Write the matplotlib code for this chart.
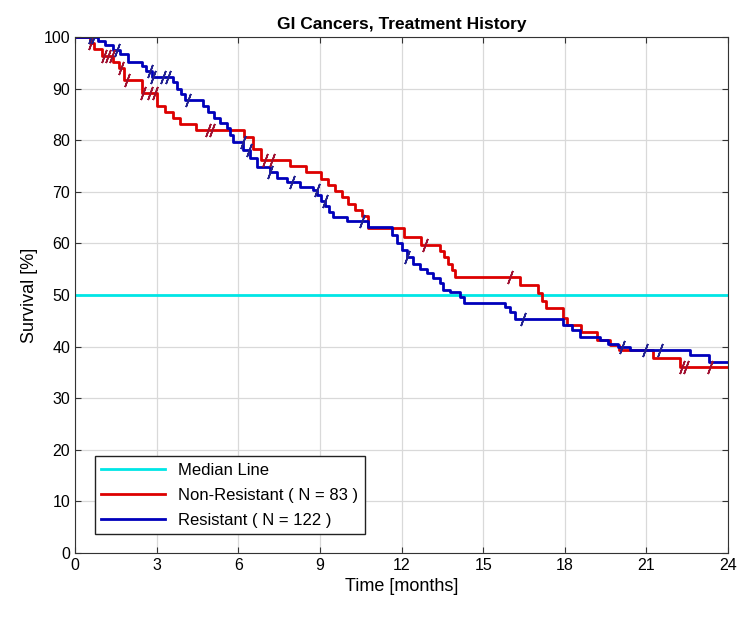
import numpy as np
import matplotlib
matplotlib.use("Agg")
import matplotlib.pyplot as plt

plt.rcParams["font.family"] = ["Liberation Sans", "DejaVu Sans"]

# step data (time in months, survival in %)
red_t = [0, 0.55, 0.7, 1.0, 1.4, 1.6, 1.8, 2.45, 3.0, 3.3, 3.6, 3.85, 4.45, 6.2, 6.55,
         6.85, 7.9, 8.5, 9.05, 9.3, 9.55, 9.8, 10.05, 10.3, 10.55, 10.75, 12.1, 12.7,
         13.4, 13.55, 13.7, 13.85, 13.95, 16.35, 17.0, 17.15, 17.3, 17.95, 18.1, 18.6,
         19.2, 19.65, 20.0, 21.25, 22.25]
red_s = [100, 98.8, 97.6, 96.4, 95.2, 94.0, 91.6, 89.2, 86.7, 85.5, 84.3, 83.1, 81.9,
         80.7, 78.3, 76.2, 75.0, 73.8, 72.5, 71.3, 70.1, 68.9, 67.7, 66.5, 65.3, 62.9,
         61.3, 59.7, 58.5, 57.3, 56.1, 54.9, 53.5, 51.9, 50.4, 48.9, 47.4, 45.5, 44.2,
         42.9, 41.3, 40.3, 39.3, 37.7, 36.1]
red_cens = [0.6, 1.05, 1.2, 1.35, 1.7, 1.9, 2.5, 2.75, 2.95, 4.9, 5.05, 7.0, 7.25,
            12.85, 16.0, 22.3, 22.45, 23.35]

blue_t = [0, 0.85, 1.1, 1.4, 1.65, 1.95, 2.45, 2.6, 2.82, 3.6, 3.75, 3.9, 4.04, 4.72,
          4.9, 5.1, 5.33, 5.58, 5.7, 5.82, 6.19, 6.43, 6.68, 7.17, 7.41, 7.78, 8.27,
          8.76, 8.9, 9.05, 9.2, 9.35, 9.5, 9.99, 10.75, 11.64, 11.83, 12.01, 12.19,
          12.44, 12.68, 12.93, 13.17, 13.42, 13.54, 13.79, 14.15, 14.28, 15.81, 15.99,
          16.18, 17.94, 18.26, 18.57, 19.3, 19.6, 19.97, 20.4, 22.6, 23.3]
blue_s = [100, 99.2, 98.4, 97.5, 96.7, 95.2, 94.4, 93.5, 92.3, 91.2, 90.0, 88.9, 87.8,
          86.6, 85.4, 84.3, 83.4, 82.4, 81.0, 79.7, 78.1, 76.5, 74.9, 73.9, 72.7, 71.9,
          71.0, 70.4, 69.4, 68.3, 67.2, 66.1, 65.2, 64.4, 63.2, 61.6, 60.0, 58.7, 57.4,
          56.1, 55.0, 54.2, 53.2, 52.3, 51.0, 50.6, 49.6, 48.5, 47.7, 46.8, 45.3, 44.2,
          43.2, 41.8, 41.2, 40.5, 39.9, 39.3, 38.3, 37.0]
blue_cens = [0.6, 0.7, 1.55, 2.75, 2.87, 3.25, 3.42, 4.15, 6.18, 6.4, 7.17, 7.96, 8.88,
             9.19, 10.54, 12.19, 16.48, 20.1, 20.96, 21.5]

t_max = 24
red_color = "#dd0000"
blue_color = "#0000bb"


def step_value(ts, ss, x):
    idx = np.searchsorted(ts, x, side="right") - 1
    return np.array(ss)[idx]


fig = plt.figure(figsize=(7.5, 6.24), dpi=100)
ax = fig.add_axes([0.1, 0.1138, 0.8707, 0.8269])

ax.axhline(50, color="#00e6e6", lw=2, label="Median Line")
ax.step(red_t + [t_max], red_s + [red_s[-1]], where="post", color=red_color, lw=2,
        label="Non-Resistant ( N = 83 )")
ax.step(blue_t + [t_max], blue_s + [blue_s[-1]], where="post", color=blue_color, lw=2,
        label="Resistant ( N = 122 )")

# censoring marks
ax.plot(red_cens, step_value(red_t, red_s, red_cens), ls="none",
        marker=(2, 2, -20), ms=10, mew=1.2, color="#a01030")
ax.plot(blue_cens, step_value(blue_t, blue_s, blue_cens), ls="none",
        marker=(2, 2, -20), ms=10, mew=1.2, color="#202090")

ax.set_xlim(0, 24)
ax.set_ylim(0, 100)
ax.set_xticks(np.arange(0, 25, 3))
ax.set_yticks(np.arange(0, 101, 10))
ax.grid(True, color="#d9d9d9", lw=0.9)
ax.set_axisbelow(True)
ax.tick_params(direction="in", length=4, labelsize=11.5, top=True, right=True,
               color="#333333")
for sp in ax.spines.values():
    sp.set_color("#333333")

ax.set_title("GI Cancers, Treatment History", fontsize=12.5, fontweight="bold", pad=6)
ax.set_xlabel("Time [months]", fontsize=13)
ax.set_ylabel("Survival [%]", fontsize=13)

leg = ax.legend(loc="lower left", bbox_to_anchor=(0.03, 0.036), fontsize=12,
                fancybox=False, edgecolor="#222222", framealpha=1,
                handlelength=3.8, borderaxespad=0, labelspacing=0.6)
leg.get_frame().set_linewidth(1)

fig.savefig("out.png", dpi=100)
